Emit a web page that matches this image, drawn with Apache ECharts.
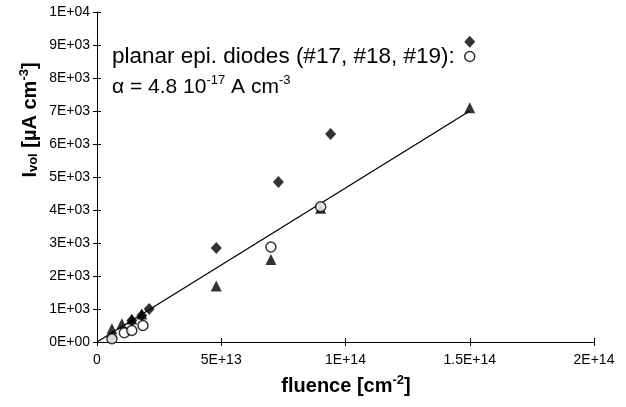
<!DOCTYPE html>
<html>
<head>
<meta charset="utf-8">
<script src="https://cdn.jsdelivr.net/npm/echarts@6/dist/echarts.min.js"></script>
<style>
  html, body { margin: 0; padding: 0; background: #fff; }
  #chart { width: 626px; height: 407px; }
</style>
</head>
<body>
<div id="chart"></div>
<script>
// Volume leakage current vs fluence for planar epi diodes #17, #18, #19
const diodes17 = [[6e12, 150], [1.4e13, 650], [1.8e13, 800], [2.1e13, 1000], [4.8e13, 2850], [7.3e13, 4850], [9.4e13, 6300], [1.5e14, 9100]];
const diodes18 = [[6e12, 100], [1.1e13, 280], [1.4e13, 350], [1.85e13, 500], [7e13, 2880], [9e13, 4100], [1.5e14, 8650]];
const diodes19 = [[6e12, 400], [1e13, 550], [1.4e13, 700], [1.8e13, 850], [4.8e13, 1700], [7e13, 2500], [9e13, 4050], [1.5e14, 7100]];
const fitLine = [[0, 0], [1.5e14, 7000]];

const xTickLabels = ['0', '5E+13', '1E+14', '1.5E+14', '2E+14'];
const yTickLabels = ['0E+00', '1E+03', '2E+03', '3E+03', '4E+03', '5E+03', '6E+03', '7E+03', '8E+03', '9E+03', '1E+04'];

const FONT = 'Liberation Sans, Arial, sans-serif';
const chart = echarts.init(document.getElementById('chart'), null, { renderer: 'canvas' });

const xBase = { type: 'value', min: 0, max: 2e14, interval: 5e13, splitLine: { show: false } };
const yBase = { type: 'value', min: 0, max: 10000, interval: 1000, splitLine: { show: false } };

const boldRich = {
  b: { fontFamily: FONT, fontSize: 20, fontWeight: 'bold', fill: '#000', verticalAlign: 'bottom' },
  s: { fontFamily: FONT, fontSize: 13, fontWeight: 'bold', fill: '#000', verticalAlign: 'bottom', padding: [0, 0, 0, 0] },
  sup: { fontFamily: FONT, fontSize: 13, fontWeight: 'bold', fill: '#000', verticalAlign: 'bottom', padding: [0, 0, 9, 0] }
};

chart.setOption({
  backgroundColor: '#ffffff',
  animation: false,
  grid: { left: 97, right: 32, top: 12, bottom: 65 },
  xAxis: [
    Object.assign({}, xBase, {
      position: 'bottom',
      axisLine: { show: true, lineStyle: { color: '#000', width: 1 } },
      axisTick: { show: true, inside: false, length: 4, lineStyle: { color: '#000' } },
      axisLabel: {
        color: '#000', fontFamily: FONT, fontSize: 14, margin: 11,
        formatter: v => xTickLabels[Math.round(v / 5e13)]
      }
    }),
    Object.assign({}, xBase, {
      position: 'bottom',
      axisLine: { show: false },
      axisTick: { show: true, inside: true, length: 4, lineStyle: { color: '#000' } },
      axisLabel: { show: false }
    })
  ],
  yAxis: [
    Object.assign({}, yBase, {
      position: 'left',
      axisLine: { show: true, lineStyle: { color: '#000', width: 1 } },
      axisTick: { show: true, inside: false, length: 4, lineStyle: { color: '#000' } },
      axisLabel: {
        color: '#000', fontFamily: FONT, fontSize: 14, margin: 7,
        formatter: v => yTickLabels[Math.round(v / 1000)]
      }
    }),
    Object.assign({}, yBase, {
      position: 'left',
      axisLine: { show: false },
      axisTick: { show: true, inside: true, length: 4, lineStyle: { color: '#000' } },
      axisLabel: { show: false }
    })
  ],
  graphic: [
    {
      // x axis title
      type: 'text', x: 346, y: 385,
      style: {
        text: '{b|fluence [cm}{sup|-2}{b|]}',
        rich: boldRich, align: 'center', verticalAlign: 'middle'
      }
    },
    {
      // y axis title
      type: 'text', x: 29, y: 120, rotation: Math.PI / 2,
      style: {
        text: '{b|I}{s|vol}{b| [µA cm}{sup|-3}{b|]}',
        rich: boldRich, align: 'center', verticalAlign: 'middle'
      }
    },
    {
      type: 'text', left: 112, top: 45,
      style: { text: 'planar epi. diodes (#17, #18, #19):', fontFamily: FONT, fontSize: 22.5, fill: '#000' }
    },
    {
      type: 'text', left: 112, top: 74,
      style: {
        text: '{n|α = 4.8 10}{sup|-17}{n| A cm}{sup|-3}',
        rich: {
          n: { fontFamily: FONT, fontSize: 21, fill: '#000', verticalAlign: 'bottom' },
          sup: { fontFamily: FONT, fontSize: 13, fill: '#000', verticalAlign: 'bottom', padding: [0, 0, 11, 0] }
        }
      }
    }
  ],
  series: [
    {
      name: 'fit', type: 'line', data: fitLine, xAxisIndex: 0, yAxisIndex: 0,
      showSymbol: false, symbol: 'none', silent: true,
      lineStyle: { color: '#000', width: 1.3 }, z: 2
    },
    {
      name: '#17', type: 'scatter', data: diodes17, xAxisIndex: 0, yAxisIndex: 0,
      symbol: 'diamond', symbolSize: [11, 12],
      itemStyle: { color: '#000' }, z: 3
    },
    {
      name: '#19', type: 'scatter', data: diodes19, xAxisIndex: 0, yAxisIndex: 0,
      symbol: 'triangle', symbolSize: [11, 11],
      itemStyle: { color: '#000' }, z: 3
    },
    {
      name: '#18', type: 'scatter', data: diodes18, xAxisIndex: 0, yAxisIndex: 0,
      symbol: 'circle', symbolSize: 10,
      itemStyle: { color: '#fff', borderColor: '#000', borderWidth: 1.5 }, z: 4
    }
  ]
});
</script>
</body>
</html>
